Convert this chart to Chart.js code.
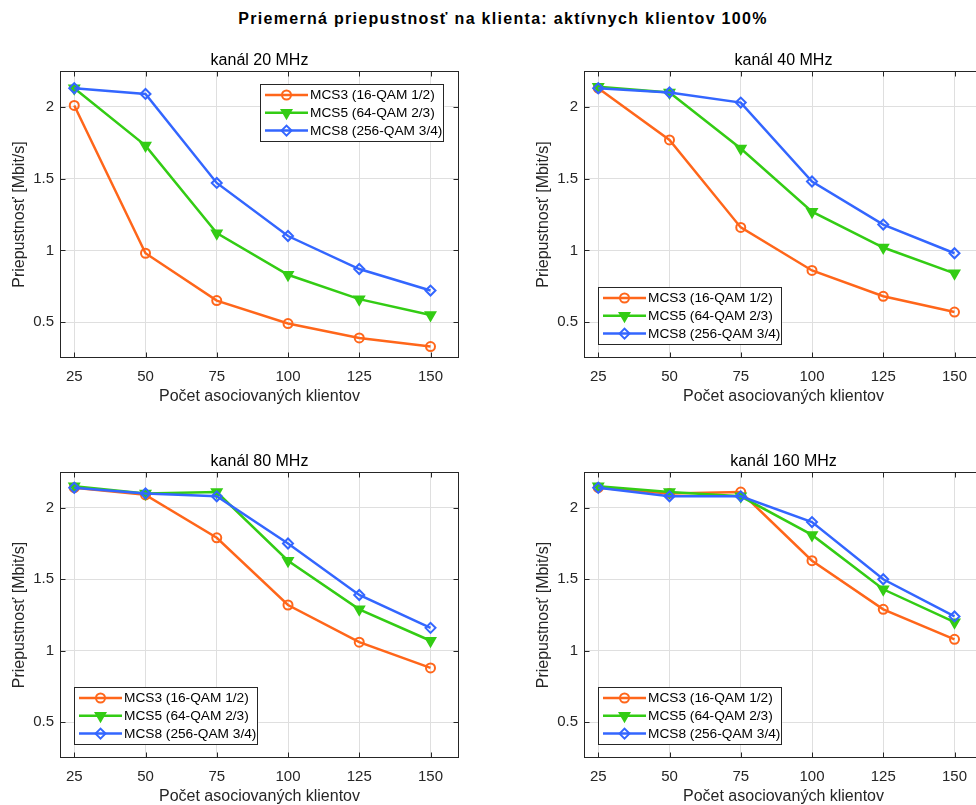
<!DOCTYPE html>
<html><head><meta charset="utf-8">
<script src="https://cdn.jsdelivr.net/npm/chart.js@4.4.1/dist/chart.umd.min.js"></script>
<style>
html,body{margin:0;padding:0;background:#fff;overflow:hidden;width:976px;height:805px;}
#wrap{position:relative;width:976px;height:805px;overflow:hidden;background:#fff;}
canvas{position:absolute;}
#title{position:absolute;top:10px;left:503px;transform:translateX(-50%);white-space:nowrap;font:bold 16px 'Liberation Sans',Arial,Helvetica,sans-serif;letter-spacing:1.3px;color:#000;}
</style></head><body>
<div id="wrap">
<div id="title">Priemerná priepustnosť na klienta: aktívnych klientov 100%</div>
<canvas id="c1" width="488" height="370" style="left:0;top:40px"></canvas>
<canvas id="c2" width="488" height="370" style="left:524px;top:40px"></canvas>
<canvas id="c3" width="488" height="370" style="left:0;top:440px"></canvas>
<canvas id="c4" width="488" height="370" style="left:524px;top:440px"></canvas>
</div>
<script>
// ---- data ----
const xValues = [25, 50, 75, 100, 125, 150];
const xTicks = [25, 50, 75, 100, 125, 150];
const xTickLabels = ['25', '50', '75', '100', '125', '150'];
const yTicks = [0.5, 1, 1.5, 2];
const yTickLabels = ['0.5', '1', '1.5', '2'];
const seriesNames = ['MCS3 (16-QAM 1/2)', 'MCS5 (64-QAM 2/3)', 'MCS8 (256-QAM 3/4)'];
const panelTitles = ['kanál 20 MHz', 'kanál 40 MHz', 'kanál 80 MHz', 'kanál 160 MHz'];
const xAxisTitle = 'Počet asociovaných klientov';
const yAxisTitle = 'Priepustnosť [Mbit/s]';

const ch20_mcs3 = [2.01, 0.98, 0.65, 0.49, 0.39, 0.33];
const ch20_mcs5 = [2.13, 1.73, 1.12, 0.83, 0.66, 0.55];
const ch20_mcs8 = [2.13, 2.09, 1.47, 1.10, 0.87, 0.72];

const ch40_mcs3 = [2.13, 1.77, 1.16, 0.86, 0.68, 0.57];
const ch40_mcs5 = [2.14, 2.10, 1.71, 1.27, 1.02, 0.84];
const ch40_mcs8 = [2.13, 2.10, 2.03, 1.48, 1.18, 0.98];

const ch80_mcs3 = [2.14, 2.09, 1.79, 1.32, 1.06, 0.88];
const ch80_mcs5 = [2.15, 2.10, 2.11, 1.63, 1.29, 1.07];
const ch80_mcs8 = [2.14, 2.10, 2.08, 1.75, 1.39, 1.16];

const ch160_mcs3 = [2.14, 2.10, 2.11, 1.63, 1.29, 1.08];
const ch160_mcs5 = [2.15, 2.11, 2.08, 1.81, 1.43, 1.20];
const ch160_mcs8 = [2.14, 2.08, 2.08, 1.90, 1.50, 1.24];

// ---- styles ----
const FONT = "'Liberation Sans', Arial, Helvetica, sans-serif";
const AX = '#262626';
const GRID = '#dfdfdf';
const colors = ['#FF661A', '#33CC14', '#3366FF'];
const pStyles = ['circle', 'triangle', 'rectRot'];
const pRot = [0, 180, 0];
const pRad = [4.5, 5.5, 5];
const pFill = ['rgba(0,0,0,0)', '#33CC14', 'rgba(0,0,0,0)'];

function makeDatasets(arrs) {
  return arrs.map((vals, i) => ({
    label: seriesNames[i],
    data: vals.map((v, j) => ({ x: xValues[j], y: v })),
    borderColor: colors[i],
    backgroundColor: colors[i],
    borderWidth: 2.5,
    pointStyle: pStyles[i],
    pointRotation: pRot[i],
    pointRadius: pRad[i],
    pointBorderWidth: 2,
    pointBackgroundColor: pFill[i],
    pointBorderColor: colors[i],
    order: 2 - i,
    tension: 0
  }));
}

const panelPlugin = {
  id: 'panel',
  afterDatasetsDraw(chart, args, o) {
    const { ctx, chartArea: a, scales: { x, y } } = chart;
    ctx.save();
    // box
    const L = Math.round(a.left) + 0.5, R = Math.round(a.right) - 0.5;
    const T = Math.round(a.top) + 0.5, B = Math.round(a.bottom) - 0.5;
    ctx.strokeStyle = AX; ctx.lineWidth = 1;
    ctx.strokeRect(L, T, R - L, B - T);
    // inner ticks
    const tl = 5;
    ctx.beginPath();
    x.ticks.forEach(t => {
      const px = Math.round(x.getPixelForValue(t.value)) + 0.5;
      ctx.moveTo(px, B); ctx.lineTo(px, B - tl);
      ctx.moveTo(px, T); ctx.lineTo(px, T + tl);
    });
    y.ticks.forEach(t => {
      const py = Math.round(y.getPixelForValue(t.value)) + 0.5;
      ctx.moveTo(L, py); ctx.lineTo(L + tl, py);
      ctx.moveTo(R, py); ctx.lineTo(R - tl, py);
    });
    ctx.stroke();
    // panel title
    ctx.fillStyle = '#000';
    ctx.font = '16px ' + FONT;
    ctx.textAlign = 'center'; ctx.textBaseline = 'middle';
    ctx.fillText(o.title, (a.left + a.right) / 2, a.top - 10);
    // legend
    const ds = chart.data.datasets;
    const LF = '13.7px ' + FONT;
    ctx.font = LF;
    const tw = Math.max(...ds.map(d => ctx.measureText(d.label).width));
    const w = 5 + 43 + 2 + tw + 2, h = 57.5;
    let bx, by;
    if (o.legend === 'ne') { bx = a.right - 15 - w; by = a.top + 13; }
    else { bx = a.left + 13.5; by = a.bottom - 14 - h; }
    bx = Math.round(bx); by = Math.round(by);
    ctx.fillStyle = '#fff';
    ctx.fillRect(bx, by, w, h);
    ctx.strokeStyle = AX; ctx.lineWidth = 1;
    ctx.strokeRect(bx + 0.5, by + 0.5, Math.round(w) - 1, Math.round(h) - 1);
    ds.forEach((d, i) => {
      const cy = by + 11 + i * 17.8;
      ctx.strokeStyle = d.borderColor; ctx.lineWidth = d.borderWidth;
      ctx.beginPath(); ctx.moveTo(bx + 5, cy); ctx.lineTo(bx + 48, cy); ctx.stroke();
      ctx.fillStyle = d.pointBackgroundColor; ctx.strokeStyle = d.borderColor;
      ctx.lineWidth = d.pointBorderWidth;
      Chart.helpers.drawPoint(ctx, { pointStyle: d.pointStyle, radius: d.pointRadius, rotation: d.pointRotation, borderWidth: d.pointBorderWidth }, bx + 26.5, cy);
      ctx.fillStyle = '#000';
      ctx.font = LF;
      ctx.textAlign = 'left'; ctx.textBaseline = 'middle';
      ctx.fillText(d.label, bx + 50, cy + 0.5);
    });
    ctx.restore();
  }
};

function makeChart(id, arrs, title, legendPos, padTop) {
  return new Chart(document.getElementById(id), {
    type: 'line',
    data: { datasets: makeDatasets(arrs) },
    plugins: [panelPlugin],
    options: {
      responsive: false, animation: false, devicePixelRatio: 1,
      layout: { padding: { top: padTop, right: 29, left: 0, bottom: 0 } },
      plugins: {
        legend: { display: false }, tooltip: { enabled: false }, title: { display: false },
        panel: { title: title, legend: legendPos }
      },
      scales: {
        x: {
          type: 'linear', min: 20, max: 160,
          afterBuildTicks: s => { s.ticks = xTicks.map(v => ({ value: v })); },
          afterFit: s => { s.height = 52; },
          grid: { color: GRID, drawTicks: false, lineWidth: 1 },
          border: { display: false },
          ticks: { padding: 10, color: AX, font: { family: FONT, size: 15 }, autoSkip: false, maxRotation: 0,
                   callback: (v, i) => xTickLabels[i] },
          title: { display: true, text: xAxisTitle, color: AX, font: { family: FONT, size: 16 }, padding: { top: 0, bottom: 3.7 } }
        },
        y: {
          type: 'linear', min: 0.25, max: 2.25,
          afterBuildTicks: s => { s.ticks = yTicks.map(v => ({ value: v })); },
          afterFit: s => { s.width = 60; },
          grid: { color: GRID, drawTicks: false, lineWidth: 1 },
          border: { display: false },
          ticks: { padding: 6, color: AX, font: { family: FONT, size: 15 }, autoSkip: false,
                   callback: (v, i) => yTickLabels[i] },
          title: { display: true, text: yAxisTitle, color: AX, font: { family: FONT, size: 16 }, padding: { top: 10, bottom: 0 } }
        }
      }
    }
  });
}

makeChart('c1', [ch20_mcs3, ch20_mcs5, ch20_mcs8], panelTitles[0], 'ne', 31);
makeChart('c2', [ch40_mcs3, ch40_mcs5, ch40_mcs8], panelTitles[1], 'sw', 31);
makeChart('c3', [ch80_mcs3, ch80_mcs5, ch80_mcs8], panelTitles[2], 'sw', 32);
makeChart('c4', [ch160_mcs3, ch160_mcs5, ch160_mcs8], panelTitles[3], 'sw', 32);
</script>
</body></html>
